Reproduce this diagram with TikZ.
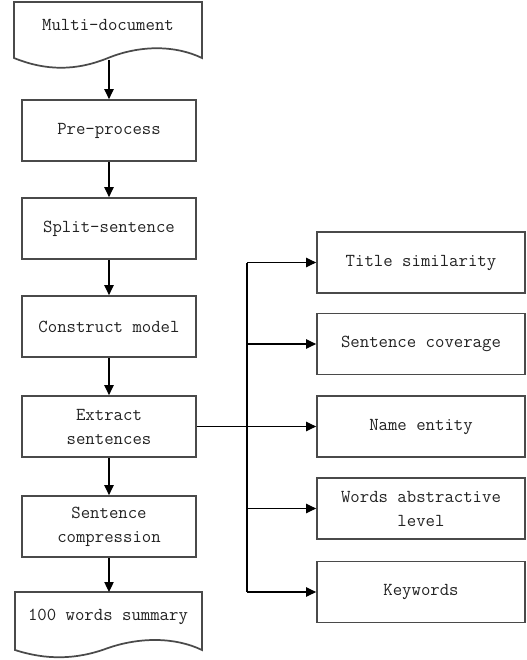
\documentclass[tikz,border=0pt]{standalone}
\usepackage{fontspec}
\usetikzlibrary{arrows.meta}
\definecolor{boxline}{HTML}{4A4A4A}
\definecolor{txt}{HTML}{222222}
\begin{document}
\begin{tikzpicture}[x=0.75pt,y=-0.75pt,
  lbox/.style={draw=boxline,line width=1.3pt,minimum width=130.5pt,minimum height=45.75pt,inner sep=0pt,align=center,text=txt,font=\ttfamily\fontsize{13.7}{18}\selectfont},
  rbox/.style={lbox,minimum width=156pt},
  doctext/.style={inner sep=0pt,text=txt,font=\ttfamily\fontsize{13.7}{18}\selectfont},
  doc/.style={draw=boxline,line width=1.3pt,fill=white},
  arr/.style={draw=black,line width=0.9pt,-{Triangle[length=7.5pt,width=7pt]}},
  ln/.style={draw=black,line width=0.9pt}]
\useasboundingbox (0,0) rectangle (526,660);
% document shapes
\path[doc] (14,2) -- (202,2) -- (202,58) .. controls (175,45) and (140,45) .. (108,58) .. controls (76,71) and (46,71) .. (14,58) -- cycle;
\path[doc] (15,592) -- (202,592) -- (202,650) .. controls (175,637) and (140,637) .. (108,648) .. controls (76,660) and (46,660) .. (15,650) -- cycle;
\node[doctext] (md) at (108,25) {Multi-document};
\node[doctext] (sum) at (108,617) {100 words summary};
\coordinate (mdb) at (109,60);
% left boxes
\node[lbox] (pre) at (109,130.5) {Pre-process};
\node[lbox] (split) at (109,228.5) {Split-sentence};
\node[lbox] (cons) at (109,326.5) {Construct model};
\node[lbox] (ext) at (109,426.5) {Extract\\sentences};
\node[lbox] (comp) at (109,526.5) {Sentence\\compression};
\coordinate (sumtop) at (109,592);
% right boxes
\node[rbox] (title) at (421,262.5) {Title similarity};
\node[rbox] (cov) at (421,344) {Sentence coverage};
\node[rbox] (name) at (421,426.5) {Name entity};
\node[rbox] (words) at (421,508.5) {Words abstractive\\level};
\node[rbox] (key) at (421,592) {Keywords};
% left arrows
\draw[arr] (mdb) -- (pre.north);
\draw[arr] (pre) -- (split);
\draw[arr] (split) -- (cons);
\draw[arr] (cons) -- (ext);
\draw[arr] (ext) -- (comp);
\draw[arr] (comp) -- (sumtop);
% branching
\coordinate (vt) at (247,262.5);
\coordinate (vb) at (247,592);
\draw[ln] (vt) -- (vb);
\draw[arr] (ext.east) -- (name.west);
\draw[arr] (vt) -- (title.west);
\draw[arr] (247,344) -- (cov.west);
\draw[arr] (247,508.5) -- (words.west);
\draw[arr] (vb) -- (key.west);
\end{tikzpicture}
\end{document}
